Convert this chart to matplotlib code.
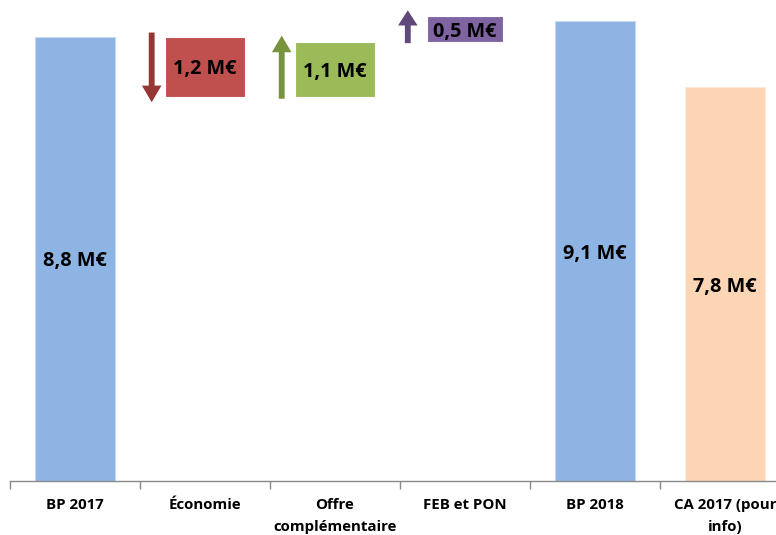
import matplotlib
matplotlib.use("Agg")
import matplotlib.pyplot as plt
from matplotlib.patches import FancyArrow

categories = ["BP 2017", "Économie", "Offre\ncomplémentaire", "FEB et PON", "BP 2018", "CA 2017 (pour\ninfo)"]
totals = {0: 8.8, 4: 9.1, 5: 7.8}
deltas = {1: -1.2, 2: 1.1, 3: 0.5}
labels = ["8,8 M€", "1,2 M€", "1,1 M€", "0,5 M€", "9,1 M€", "7,8 M€"]

bar_colors = {0: "#8EB4E3", 4: "#8EB4E3", 5: "#FCD5B5"}
box_colors = {1: "#C0504D", 2: "#9BBB59", 3: "#8064A2"}
arrow_colors = {1: "#953735", 2: "#77933C", 3: "#604A7B"}

plt.rcParams['font.family'] = ['Open Sans', 'DejaVu Sans']

W, H = 776, 535
fig = plt.figure(figsize=(W / 100, H / 100), dpi=100)
slot = 130.0
left_px = 10
axis_y = 481
ax = fig.add_axes([left_px / W, (H - axis_y) / H, (W - left_px) / W, axis_y / H])

bw = 0.62
vfs = 14.3
for i, v in totals.items():
    ax.bar(i, v, width=bw, color=bar_colors[i], edgecolor="#C6D9F1" if i != 5 else "#FDE9D9", linewidth=0.8, zorder=2)
    ax.text(i, v / 2, labels[i], ha="center", va="center_baseline", fontsize=vfs, fontweight="bold", color="black", zorder=3)

level = totals[0]
for i in (1, 2, 3):
    d = deltas[i]
    lo, hi = (level + d, level) if d < 0 else (level, level + d)
    ax.bar(i, hi - lo, bottom=lo, width=bw if i != 3 else 0.59, color=box_colors[i], edgecolor="white", linewidth=0.8, zorder=2)
    ax.text(i, (lo + hi) / 2, labels[i], ha="center", va="center_baseline", fontsize=vfs, fontweight="bold", color="black", zorder=3)
    ax_x = i - 0.41 if i != 3 else i - 0.44
    if d < 0:
        start, end = hi + 0.08, lo - 0.1
    else:
        start, end = lo - 0.03, hi + 0.12
    hl = 0.33 if i != 3 else 0.3
    ax.add_patch(FancyArrow(ax_x, start, 0, end - start, width=0.045, head_width=0.15,
                            head_length=hl, length_includes_head=True,
                            color=arrow_colors[i], linewidth=0, zorder=3))
    level += d

ax.set_xticks(range(len(categories)))
ax.set_xticklabels(categories, fontsize=10.8, fontweight="bold", linespacing=1.75)
ax.tick_params(axis="x", which="major", length=0, pad=12)
ax.set_xticks([k - 0.5 for k in range(len(categories) + 1)], minor=True)
ax.tick_params(axis="x", which="minor", length=6, color="#898989", width=1)
ax.set_yticks([])
ax.set_xlim(-0.5, -0.5 + (W - left_px) / slot)
ax.set_ylim(0, axis_y / 50.5)
for s in ("top", "right", "left"):
    ax.spines[s].set_visible(False)
ax.spines["bottom"].set_color("#898989")
ax.spines["bottom"].set_linewidth(1)

fig.savefig("out.png", dpi=100)
